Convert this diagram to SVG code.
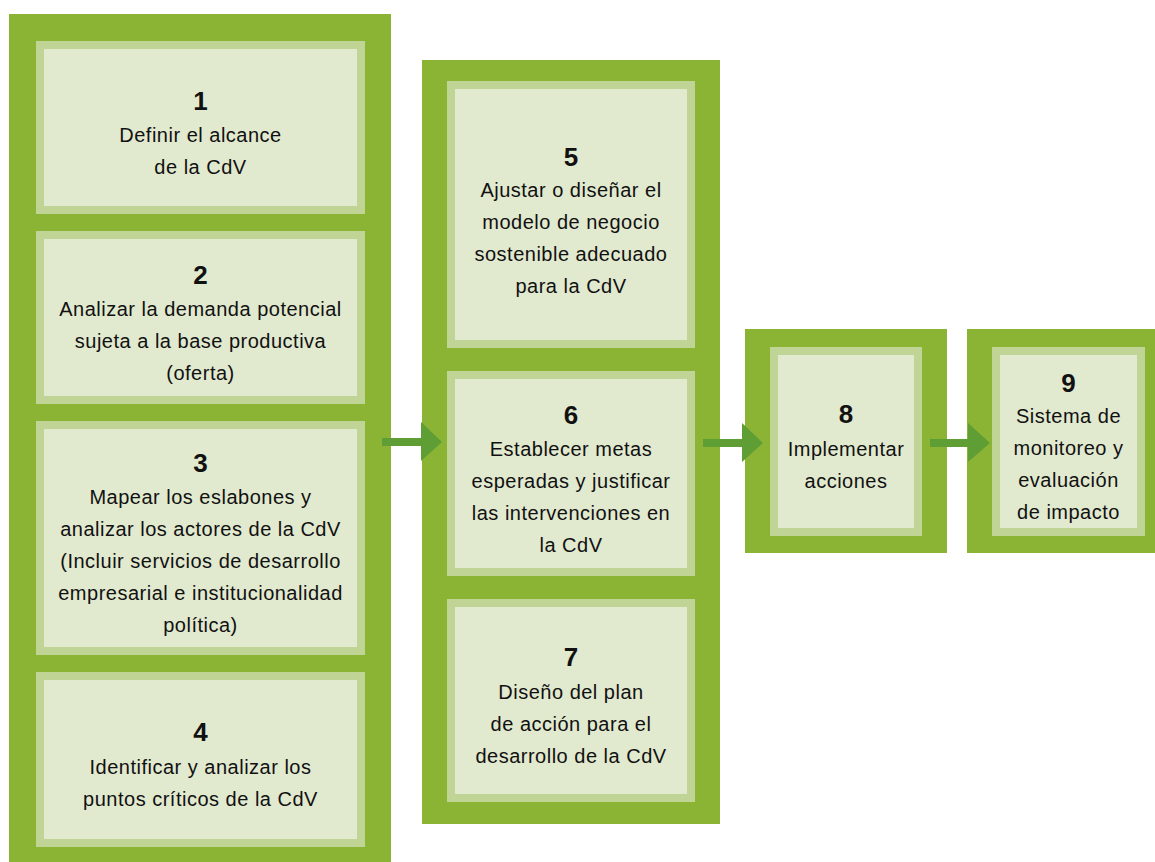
<svg xmlns="http://www.w3.org/2000/svg" width="1155" height="862" viewBox="0 0 1155 862">
<style>
.col{fill:#8bb434}
.card{fill:#e1e9cf;stroke:#bfd495;stroke-width:8}
.num{font-family:"Liberation Sans",Arial,sans-serif;font-weight:bold;font-size:26px;fill:#111;text-anchor:middle}
.txt{font-family:"Liberation Sans",Arial,sans-serif;font-size:20px;letter-spacing:0.5px;fill:#111;text-anchor:middle}
.arr{fill:#5f9e35}
</style>
<rect width="1155" height="862" fill="#fff"/>
<g id="columns">
<rect class="col" x="9" y="14" width="382" height="848"/>
<rect class="col" x="422" y="60" width="298" height="764"/>
<rect class="col" x="745" y="329" width="202" height="224"/>
<rect class="col" x="967" y="329" width="188" height="224"/>
</g>
<g id="node1">
<rect class="card" x="40" y="45" width="321" height="165"/>
<text class="num" x="200.5" y="110">1</text>
<text class="txt" x="200.5" y="142">Definir el alcance</text>
<text class="txt" x="200.5" y="174">de la CdV</text>
</g>
<g id="node2">
<rect class="card" x="40" y="235" width="321" height="165"/>
<text class="num" x="200.5" y="284">2</text>
<text class="txt" x="200.5" y="316">Analizar la demanda potencial</text>
<text class="txt" x="200.5" y="348">sujeta a la base productiva</text>
<text class="txt" x="200.5" y="380">(oferta)</text>
</g>
<g id="node3">
<rect class="card" x="40" y="425" width="321" height="226"/>
<text class="num" x="200.5" y="472">3</text>
<text class="txt" x="200.5" y="504">Mapear los eslabones y</text>
<text class="txt" x="200.5" y="536">analizar los actores de la CdV</text>
<text class="txt" x="200.5" y="568">(Incluir servicios de desarrollo</text>
<text class="txt" x="200.5" y="600">empresarial e institucionalidad</text>
<text class="txt" x="200.5" y="632">política)</text>
</g>
<g id="node4">
<rect class="card" x="40" y="676" width="321" height="167"/>
<text class="num" x="200.5" y="741">4</text>
<text class="txt" x="200.5" y="774">Identificar y analizar los</text>
<text class="txt" x="200.5" y="806">puntos críticos de la CdV</text>
</g>
<g id="node5">
<rect class="card" x="451" y="85" width="240" height="259"/>
<text class="num" x="571" y="166">5</text>
<text class="txt" x="571" y="197">Ajustar o diseñar el</text>
<text class="txt" x="571" y="229">modelo de negocio</text>
<text class="txt" x="571" y="261">sostenible adecuado</text>
<text class="txt" x="571" y="293">para la CdV</text>
</g>
<g id="node6">
<rect class="card" x="451" y="375" width="240" height="197"/>
<text class="num" x="571" y="424">6</text>
<text class="txt" x="571" y="456">Establecer metas</text>
<text class="txt" x="571" y="488">esperadas y justificar</text>
<text class="txt" x="571" y="520">las intervenciones en</text>
<text class="txt" x="571" y="552">la CdV</text>
</g>
<g id="node7">
<rect class="card" x="451" y="603" width="240" height="195"/>
<text class="num" x="571" y="666">7</text>
<text class="txt" x="571" y="699">Diseño del plan</text>
<text class="txt" x="571" y="731">de acción para el</text>
<text class="txt" x="571" y="763">desarrollo de la CdV</text>
</g>
<g id="node8">
<rect class="card" x="774" y="351" width="144" height="181"/>
<text class="num" x="846" y="423">8</text>
<text class="txt" x="846" y="456">Implementar</text>
<text class="txt" x="846" y="488">acciones</text>
</g>
<g id="node9">
<rect class="card" x="996" y="351" width="145" height="181"/>
<text class="num" x="1068.5" y="392">9</text>
<text class="txt" x="1068.5" y="423">Sistema de</text>
<text class="txt" x="1068.5" y="455">monitoreo y</text>
<text class="txt" x="1068.5" y="487">evaluación</text>
<text class="txt" x="1068.5" y="519">de impacto</text>
</g>
<g id="connectors">
<polygon class="arr" points="382,438 421,438 421,422 442,442 421,461 421,446 382,446"/>
<polygon class="arr" points="703,439 742,439 742,423 763,443 742,462 742,447 703,447"/>
<polygon class="arr" points="930,439 968,439 968,423 990,443 968,462 968,447 930,447"/>
</g>
</svg>
